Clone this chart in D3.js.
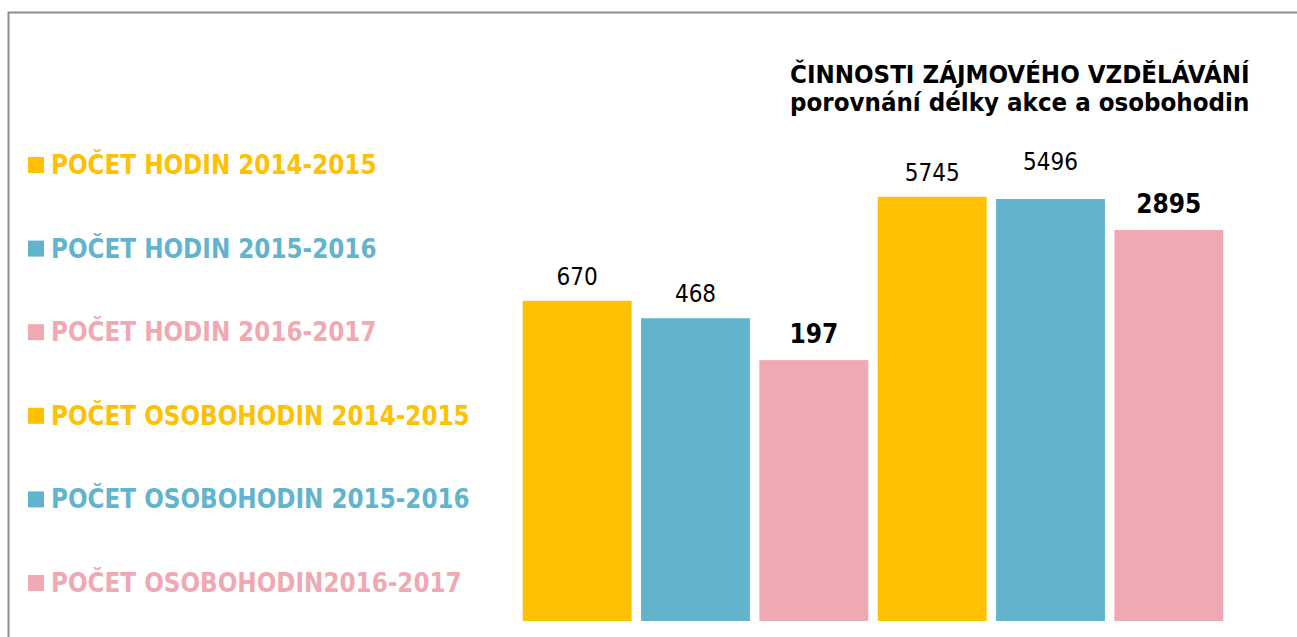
<!DOCTYPE html>
<html>
<head>
<meta charset="utf-8">
<script src="https://cdn.jsdelivr.net/npm/d3@7"></script>
<style>
  body { margin: 0; background: #fff; }
  text { font-family: "DejaVu Sans Condensed", "DejaVu Sans", sans-serif; }
</style>
</head>
<body>
<div id="chart"></div>
<script>
var categories = ["POČET HODIN 2014-2015", "POČET HODIN 2015-2016", "POČET HODIN 2016-2017",
                  "POČET OSOBOHODIN 2014-2015", "POČET OSOBOHODIN 2015-2016", "POČET OSOBOHODIN2016-2017"];
var values = [670, 468, 197, 5745, 5496, 2895];
var colors = ["#FFC000", "#62B4CC", "#F0A8B2", "#FFC000", "#62B4CC", "#F0A8B2"];
var boldLabel = [false, false, true, false, false, true];
var labelLift = [0, 0, 0, 0, 13, 0];
var titleLines = ["ČINNOSTI ZÁJMOVÉHO VZDĚLÁVÁNÍ", "porovnání délky akce a osobohodin"];

drawChart();
function drawChart(){
    var width = 1297, height = 637;

    var svg = d3.select("#chart")
    .append("svg")
        .attr("width", width)
        .attr("height", height);

    // frame
    svg.append("rect")
        .attr("x", 8.5).attr("y", 12.5)
        .attr("width", 1400).attr("height", 800)
        .attr("fill", "none")
        .attr("stroke", "#8c8c8c")
        .attr("stroke-width", 2);

    var x = d3.scaleBand()
        .domain(categories)
        .range([518, 1228])
        .paddingInner(0.08)
        .paddingOuter(0.04);

    // log scale: bar heights follow log of value
    var y = d3.scaleLog()
        .domain([0.9, 10000])
        .range([621, 170]);

    svg.append("g")
        .selectAll("rect")
        .data(values)
        .enter()
        .append("rect")
        .attr("x", function (d, i) { return x(categories[i]); })
        .attr("y", function (d) { return y(d); })
        .attr("width", x.bandwidth())
        .attr("height", function (d) { return 621 - y(d); })
        .style("fill", function (d, i) { return colors[i]; });

    svg.append("g")
        .selectAll("text")
        .data(values)
        .enter()
        .append("text")
        .attr("x", function (d, i) { return x(categories[i]) + x.bandwidth() / 2; })
        .attr("y", function (d, i) { return y(d) - (boldLabel[i] ? 17 : 16) - labelLift[i]; })
        .attr("text-anchor", "middle")
        .attr("font-size", function (d, i) { return boldLabel[i] ? 26 : 24; })
        .attr("font-weight", function (d, i) { return boldLabel[i] ? "bold" : "normal"; })
        .attr("fill", "#000")
        .text(function (d) { return d; });

    // legend
    var legend = svg.append("g")
        .selectAll("g")
        .data(categories)
        .enter()
        .append("g")
        .attr("transform", function (d, i) { return "translate(28," + (165 + i * 83.6) + ")"; });

    legend.append("rect")
        .attr("x", 0).attr("y", -8)
        .attr("width", 16).attr("height", 16)
        .style("fill", function (d, i) { return colors[i]; });

    legend.append("text")
        .attr("x", 23).attr("y", 9)
        .attr("font-size", 25.7)
        .attr("font-weight", "bold")
        .attr("fill", function (d, i) { return colors[i]; })
        .text(function (d) { return d; });

    svg.append("g")
        .selectAll("text")
        .data(titleLines)
        .enter()
        .append("text")
        .attr("x", 790)
        .attr("y", function (d, i) { return 83 + i * 28; })
        .attr("font-size", 25.6)
        .attr("font-weight", "bold")
        .attr("fill", "#000")
        .text(function (d) { return d; });
}
</script>
</body>
</html>
